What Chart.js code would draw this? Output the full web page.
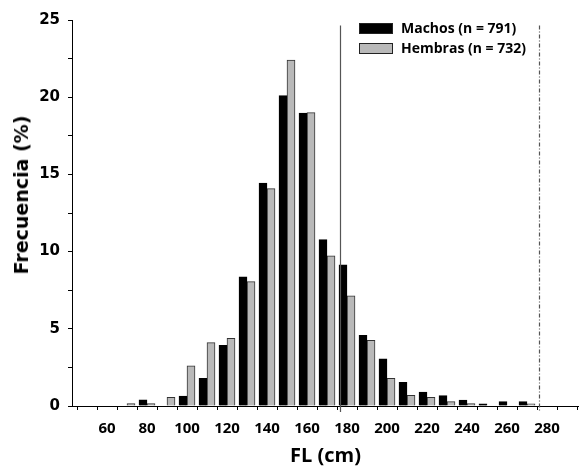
<!DOCTYPE html>
<html>
<head>
<meta charset="utf-8">
<script src="https://cdn.jsdelivr.net/npm/chart.js@4"></script>
<style>
  body { margin: 0; background: #fff; }
  #wrap { position: relative; width: 579px; height: 470px; }
  #ytitle {
    position: absolute; left: 21px; top: 195px;
    transform: translate(-50%, -50%) rotate(-90deg);
    font: bold 19px "DejaVu Sans"; white-space: nowrap; color: #000;
  }
  .leg { position: absolute; left: 359px; font: bold 14px "Open Sans"; color: #000; white-space: nowrap; }
  .leg span { display: inline-block; width: 32px; height: 9px; border: 1px solid #222; vertical-align: middle; margin-right: 8px; position: relative; top: -1px; }
</style>
</head>
<body>
<div id="wrap">
  <canvas id="myChart" width="579" height="470"></canvas>
  <div id="ytitle">Frecuencia (%)</div>
  <div class="leg" style="top:18px"><span style="background:#000"></span>Machos (n = 791)</div>
  <div class="leg" style="top:38px"><span style="background:#b9b9b9"></span>Hembras (n = 732)</div>
</div>
<script>
// bin centres (cm) and frequencies (%)
var bins = [60, 70, 80, 90, 100, 110, 120, 130, 140, 150, 160, 170, 180, 190, 200, 210, 220, 230, 240, 250, 260, 270];
var machos = [0, 0, 0.4, 0, 0.65, 1.8, 3.93, 8.36, 14.44, 20.1, 18.97, 10.78, 9.15, 4.57, 3.05, 1.53, 0.9, 0.67, 0.39, 0.14, 0.28, 0.28];
var hembras = [0, 0.15, 0.15, 0.56, 2.6, 4.1, 4.38, 8.06, 14.08, 22.4, 19.0, 9.72, 7.14, 4.25, 1.79, 0.69, 0.56, 0.28, 0.15, 0, 0, 0.14];
var xTickLabels = [60, 80, 100, 120, 140, 160, 180, 200, 220, 240, 260, 280];
var yTickLabels = [0, 5, 10, 15, 20, 25];
// reference lines (cm)
var solidLine = 176.3;
var dashDotLine = 276.2;

function points(vals) {
    return bins.map(function (b, i) { return { x: b, y: vals[i] }; });
}

var refLines = {
    id: "refLines",
    afterDatasetsDraw: function (chart) {
        var ctx = chart.ctx, x = chart.scales.x, y = chart.scales.y;
        var top = y.getPixelForValue(24.65), bottom = y.bottom + 6;
        ctx.save();
        ctx.lineWidth = 1.2;
        ctx.strokeStyle = "#555";
        var px = Math.round(x.getPixelForValue(solidLine)) + 0.5;
        ctx.beginPath(); ctx.moveTo(px, top); ctx.lineTo(px, bottom); ctx.stroke();
        ctx.setLineDash([4, 2, 1, 2]);
        px = Math.round(x.getPixelForValue(dashDotLine)) + 0.5;
        ctx.beginPath(); ctx.moveTo(px, top); ctx.lineTo(px, bottom); ctx.stroke();
        ctx.restore();
    }
};

new Chart("myChart", {
    type: "bar",
    data: {
        datasets: [{
            label: "Machos (n = 791)",
            data: points(machos),
            backgroundColor: "#000",
            borderColor: "#000",
            borderWidth: 1,
            barThickness: 8
        }, {
            label: "Hembras (n = 732)",
            data: points(hembras),
            backgroundColor: "#b9b9b9",
            borderColor: "#333",
            borderWidth: 1,
            barThickness: 8
        }]
    },
    options: {
        responsive: false,
        animation: false,
        devicePixelRatio: 1,
        layout: { padding: { top: 20, right: 0, left: 0, bottom: 0 } },
        plugins: {
            legend: { display: false },
            tooltip: { enabled: false }
        },
        scales: {
            x: {
                type: "linear",
                offset: false,
                min: 42.5,
                max: 296,
                afterFit: function (s) { s.height = 64; },
                border: { color: "#000", width: 1 },
                grid: { drawOnChartArea: false, tickLength: 4, tickColor: "#000" },
                ticks: {
                    stepSize: 10,
                    includeBounds: false,
                    autoSkip: false,
                    maxRotation: 0,
                    padding: 10,
                    color: "#000",
                    font: { family: "Open Sans", weight: "bold", size: 15 },
                    callback: function (v) { return xTickLabels.indexOf(v) >= 0 ? String(v) : ""; }
                },
                title: {
                    display: true,
                    text: "FL (cm)",
                    color: "#000",
                    font: { family: "Open Sans", weight: "bold", size: 20 },
                    padding: { top: 0, bottom: 2 }
                }
            },
            y: {
                min: 0,
                max: 25,
                afterFit: function (s) { s.width = 72; },
                border: { color: "#000", width: 1 },
                grid: { drawOnChartArea: false, tickLength: 4, tickColor: "#000" },
                ticks: {
                    stepSize: 2.5,
                    padding: 8,
                    color: "#000",
                    font: { family: "DejaVu Sans", weight: "bold", size: 15 },
                    callback: function (v) { return yTickLabels.indexOf(v) >= 0 ? String(v) : ""; }
                }
            }
        }
    },
    plugins: [refLines]
});
</script>
</body>
</html>
